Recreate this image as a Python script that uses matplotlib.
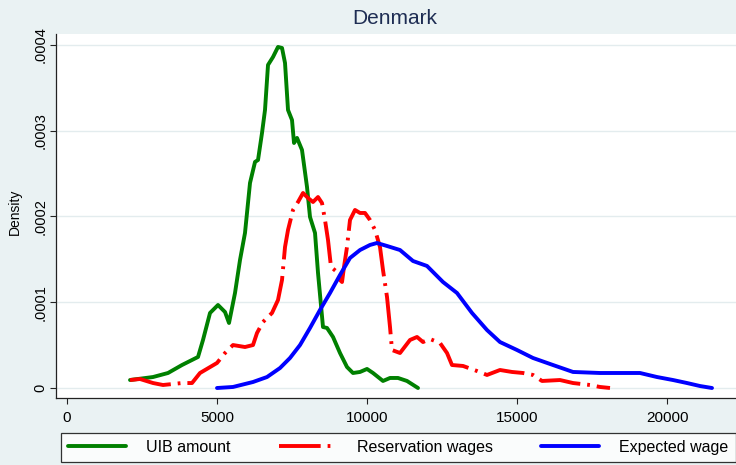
import matplotlib
matplotlib.use("Agg")
import matplotlib.pyplot as plt

# values
uib_x = [2100, 2867, 3367, 3833, 4367, 4533, 4767, 5033, 5267, 5400, 5600, 5767, 5933,
         6100, 6267, 6367, 6500, 6600, 6700, 6867, 7033, 7167, 7267, 7367, 7500, 7567,
         7667, 7833, 8000, 8100, 8267, 8367, 8533, 8667, 8867, 9100, 9333, 9533, 9767,
         10000, 10200, 10533, 10767, 11033, 11333, 11700]
uib_y = [9.3e-6, 1.28e-5, 1.75e-5, 2.68e-5, 3.62e-5, 5.6e-5, 8.75e-5, 9.68e-5, 8.86e-5,
         7.58e-5, 1.108e-4, 1.493e-4, 1.808e-4, 2.391e-4, 2.636e-4, 2.659e-4, 2.974e-4,
         3.242e-4, 3.767e-4, 3.86e-4, 3.977e-4, 3.965e-4, 3.79e-4, 3.242e-4, 3.125e-4,
         2.857e-4, 2.916e-4, 2.776e-4, 2.344e-4, 1.994e-4, 1.808e-4, 1.341e-4, 7.11e-5,
         7.0e-5, 5.95e-5, 4.08e-5, 2.45e-5, 1.75e-5, 1.87e-5, 2.22e-5, 1.75e-5, 8.2e-6,
         1.17e-5, 1.17e-5, 8.2e-6, 0.0]

res_x = [2100, 2433, 2867, 3200, 3533, 3833, 4167, 4433, 5000, 5267, 5533, 5933, 6200,
         6333, 6533, 6833, 7033, 7167, 7267, 7367, 7533, 7700, 7867, 8033, 8200, 8367,
         8500, 8600, 8700, 8800, 9000, 9100, 9167, 9233, 9333, 9433, 9600, 9767, 9933,
         10100, 10267, 10433, 10533, 10667, 10767, 10833, 11100, 11433, 11667, 11867,
         12100, 12433, 12667, 12833, 13200, 13667, 14000, 14433, 14833, 15200, 15533,
         15833, 16433, 16867, 17433, 17767, 18100]
res_y = [9.3e-6, 1.05e-5, 5.8e-6, 3.5e-6, 4.7e-6, 5.8e-6, 5.8e-6, 1.75e-5, 2.92e-5,
         4.08e-5, 5.01e-5, 4.78e-5, 5.01e-5, 6.41e-5, 7.7e-5, 8.75e-5, 1.026e-4, 1.26e-4,
         1.644e-4, 1.843e-4, 2.076e-4, 2.169e-4, 2.274e-4, 2.216e-4, 2.169e-4, 2.227e-4,
         2.157e-4, 1.959e-4, 1.726e-4, 1.411e-4, 1.353e-4, 1.26e-4, 1.236e-4, 1.411e-4,
         1.644e-4, 1.959e-4, 2.076e-4, 2.041e-4, 2.041e-4, 1.959e-4, 1.843e-4, 1.644e-4,
         1.376e-4, 1.061e-4, 7.11e-5, 4.43e-5, 4.08e-5, 5.6e-5, 5.95e-5, 5.36e-5, 5.71e-5,
         5.25e-5, 4.08e-5, 2.68e-5, 2.57e-5, 1.98e-5, 1.52e-5, 2.1e-5, 1.87e-5, 1.75e-5,
         1.52e-5, 8.2e-6, 9.3e-6, 5.8e-6, 3.5e-6, 1.2e-6, 0.0]

exp_x = [5000, 5533, 6200, 6667, 7100, 7433, 7767, 8100, 8433, 8767, 9100, 9433, 9767,
         10100, 10333, 10667, 11100, 11533, 12000, 12533, 13000, 13500, 14000, 14433,
         15000, 15533, 16200, 16867, 17767, 18333, 19100, 19667, 20200, 20667, 21100,
         21500]
exp_y = [0.0, 1.2e-6, 7.0e-6, 1.28e-5, 2.33e-5, 3.5e-5, 5.01e-5, 7.0e-5, 9.1e-5, 1.108e-4,
         1.318e-4, 1.516e-4, 1.609e-4, 1.668e-4, 1.691e-4, 1.656e-4, 1.609e-4, 1.481e-4,
         1.423e-4, 1.236e-4, 1.108e-4, 8.75e-5, 6.76e-5, 5.36e-5, 4.43e-5, 3.5e-5, 2.68e-5,
         1.87e-5, 1.75e-5, 1.75e-5, 1.75e-5, 1.28e-5, 9.3e-6, 5.8e-6, 2.3e-6, 0.0]

x_ticks = [0, 5000, 10000, 15000, 20000]
y_ticks = [0, 0.0001, 0.0002, 0.0003, 0.0004]
y_tick_labels = ["0", ".0001", ".0002", ".0003", ".0004"]
series_names = ["UIB amount", "Reservation wages", "Expected wage"]

bg = "#eaf2f3"
plt.rcParams["font.family"] = ["Liberation Sans", "DejaVu Sans"]
plt.rcParams["lines.scale_dashes"] = False

fig = plt.figure(figsize=(7.36, 4.65), dpi=100, facecolor=bg)
ax = fig.add_axes([56 / 736, 67 / 465, 680 / 736, 364 / 465])
ax.set_facecolor("white")

ax.plot(uib_x, uib_y, color="#008000", lw=2.8, solid_joinstyle="round",
        solid_capstyle="round", label=series_names[0])
ax.plot(res_x, res_y, color="#ff0000", lw=2.8, dashes=(30, 5, 2, 5),
        label=series_names[1])
ax.plot(exp_x, exp_y, color="#0000ff", lw=2.8, solid_joinstyle="round",
        solid_capstyle="round", label=series_names[2])

ax.set_xlim(-367, 22300)
ax.set_ylim(-1.166e-5, 4.128e-4)

ax.set_xticks(x_ticks)
ax.set_xticklabels([str(v) for v in x_ticks])
ax.set_yticks(y_ticks)
ax.set_yticklabels(y_tick_labels, rotation=90, va="center")
ax.tick_params(axis="x", length=4, width=0.8, pad=5, labelsize=11, color="#222222")
ax.tick_params(axis="y", length=4, width=0.8, pad=2, labelsize=10.5, color="#222222")

ax.grid(axis="y", color="#e3ecee", lw=1)
ax.set_axisbelow(True)
for s in ["top", "right"]:
    ax.spines[s].set_visible(False)
for s in ["left", "bottom"]:
    ax.spines[s].set_color("#222222")
    ax.spines[s].set_linewidth(0.9)

ax.set_ylabel("Density", fontsize=10)
ax.yaxis.set_label_coords((22 - 56) / 680, (398 - 212) / 364)

fig.text(395 / 736, 1 - 19 / 465, "Denmark", ha="center", va="center",
         fontsize=15, color="#1e2d53")

leg = fig.legend(loc="lower left", bbox_to_anchor=(61 / 736, 3 / 465), ncol=3,
                 fontsize=11.5, frameon=True, fancybox=False, borderaxespad=0,
                 handlelength=3.6, handletextpad=1.3, columnspacing=3.0,
                 borderpad=0.45)
leg.get_frame().set_edgecolor("black")
leg.get_frame().set_linewidth(0.9)
leg.get_frame().set_facecolor("white")

fig.savefig("out.png", dpi=100, facecolor=bg)
